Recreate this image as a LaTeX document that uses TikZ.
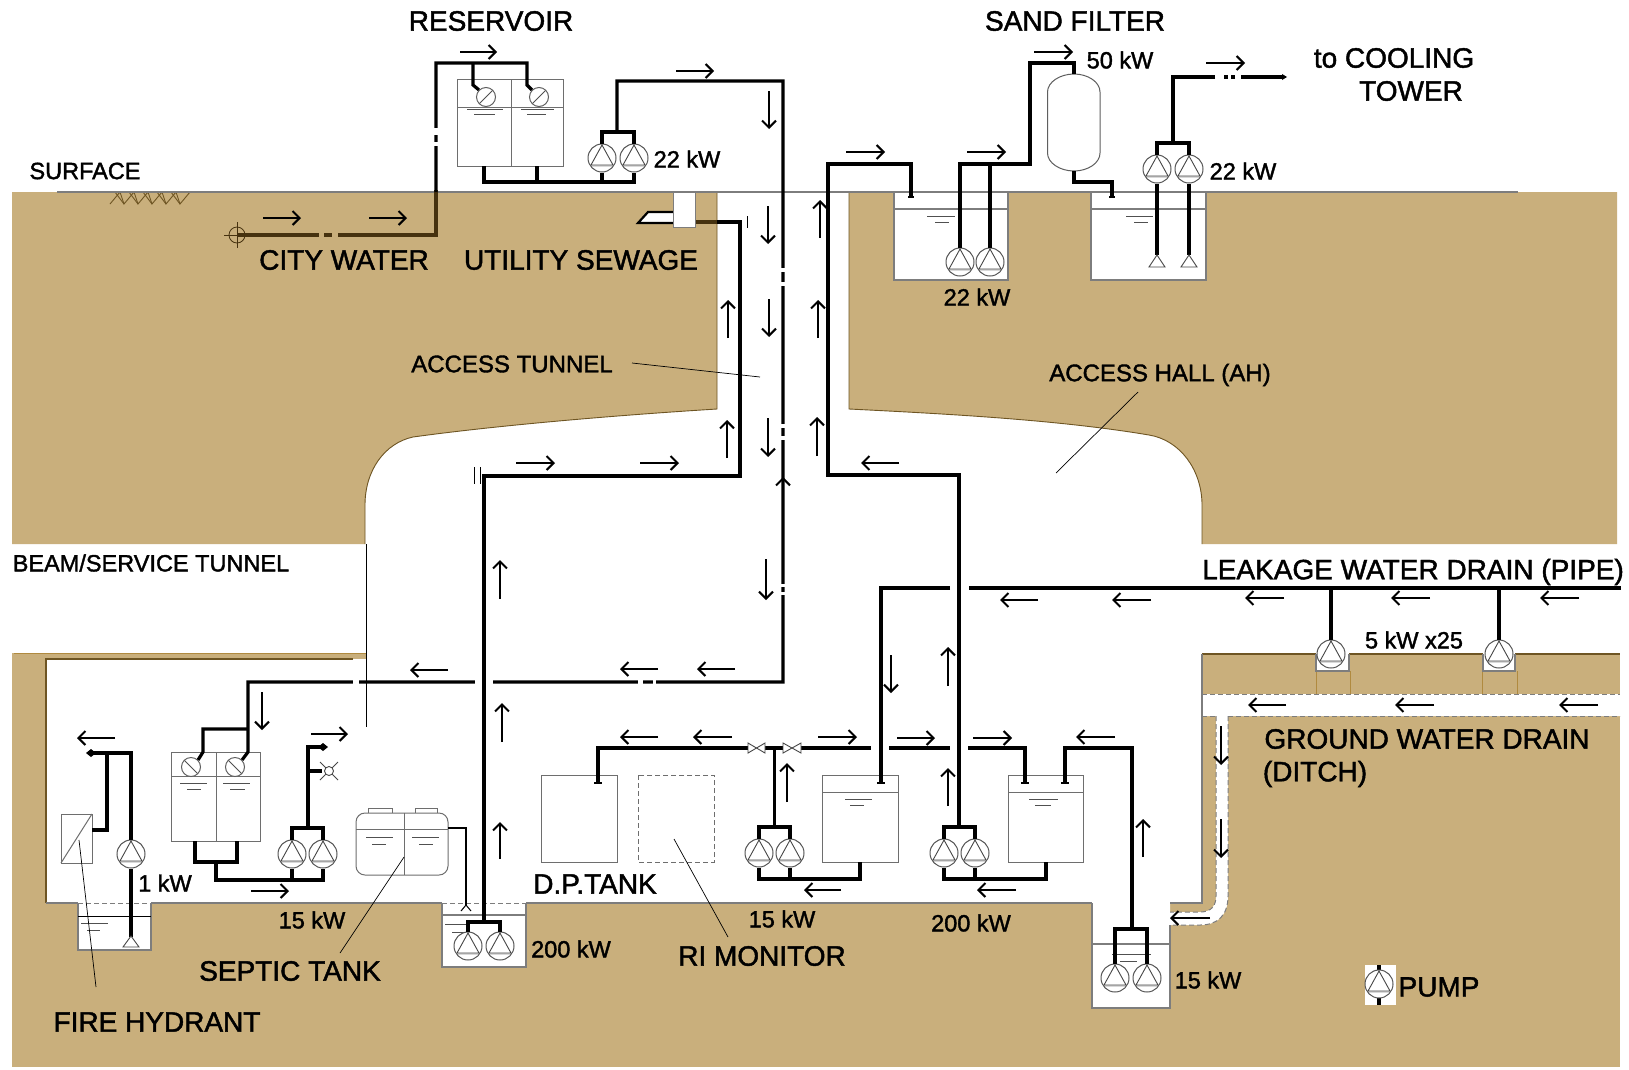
\documentclass[tikz,border=0pt]{standalone}
\usepackage{fontspec}
\setmainfont{Liberation Sans}
\newfontfamily\lblfont[FakeBold=1.6]{Liberation Sans}
\usetikzlibrary{arrows.meta}
\definecolor{groundtan}{RGB}{201,175,124}
\definecolor{grounddark}{RGB}{110,85,35}
\definecolor{groundline}{RGB}{176,138,63}
\definecolor{pipebrown}{RGB}{70,50,15}
\tikzset{
  biglabel/.style={inner sep=0pt,text=black,font=\lblfont\fontsize{28}{32}\selectfont},
  midlabel/.style={inner sep=0pt,text=black,font=\lblfont\fontsize{24}{28}\selectfont},
  smalllabel/.style={inner sep=0pt,text=black,font=\lblfont\fontsize{23.5}{27}\selectfont},
  pipe/.style={draw=black,line width=3.2pt,line cap=butt,line join=miter},
  pipeburied/.style={draw=pipebrown,line width=3.2pt,line cap=butt,line join=miter},
  pipegap/.style={draw=white,line width=5pt,line cap=butt},
  flow/.style={draw=black,line width=2pt,-{Straight Barb[length=7pt,width=14pt,line width=2pt]}},
  tankbox/.style={draw={rgb,255:red,110;green,110;blue,110},line width=1pt,fill=white},
  thinline/.style={draw=black,line width=0.7pt},
  pitline/.style={draw={rgb,255:red,125;green,125;blue,125},line width=1.2pt},
  dashline/.style={draw={rgb,255:red,125;green,125;blue,125},line width=1pt,dash pattern=on 5pt off 3pt},
  wallline/.style={draw=grounddark,line width=1.2pt},
  watermark/.style={draw={rgb,255:red,80;green,80;blue,80},line width=1pt},
  tipend/.style={draw=black,line width=1.6pt},
  pump/.style={circle,draw={rgb,255:red,85;green,85;blue,85},line width=1pt,fill=white,minimum size=28pt,inner sep=0pt,
    path picture={\fill[shift={(path picture bounding box.center)},black!15] (-14,7) rectangle (14,9);
      \draw[shift={(path picture bounding box.center)},draw={rgb,255:red,70;green,70;blue,70},line width=0.9pt] (0,-13) -- (-11,7) -- (11,7) -- cycle;}},
  floatup/.style={circle,draw={rgb,255:red,95;green,95;blue,95},line width=1pt,fill=white,minimum size=19pt,inner sep=0pt,
    path picture={\draw[draw={rgb,255:red,80;green,80;blue,80},line width=0.8pt] (path picture bounding box.north east) -- (path picture bounding box.south west);}},
  floatdown/.style={circle,draw={rgb,255:red,95;green,95;blue,95},line width=1pt,fill=white,minimum size=19pt,inner sep=0pt,
    path picture={\draw[draw={rgb,255:red,80;green,80;blue,80},line width=0.8pt] (path picture bounding box.north west) -- (path picture bounding box.south east);}},
  gatevalve/.style={draw={rgb,255:red,70;green,70;blue,70},line width=0.9pt,fill=white}
}
\begin{document}
\begin{tikzpicture}[x=1pt,y=-1pt]
% 1629 x 1069, pixel coordinates
\useasboundingbox (0,0) rectangle (1629,1069);
\fill[white] (0,0) rectangle (1629,1069);
% ground
\fill[groundtan] (12,192) -- (717,192) -- (717,409) .. controls (620,415) and (500,425) .. (413,437) .. controls (385,443) and (365,470) .. (365,505) -- (365,544) -- (12,544) -- cycle;
\fill[groundtan] (849,192) -- (1617,192) -- (1617,544) -- (1202,544) -- (1202,505) .. controls (1202,470) and (1180,440) .. (1149,435) .. controls (1060,420) and (950,414) .. (849,409) -- cycle;
\fill[groundtan] (12,653) -- (1620,653) -- (1620,1067) -- (12,1067) -- cycle;
\fill[white] (46,659) -- (366,659) -- (366,650) -- (1202,650) -- (1202,903) -- (1170,903) -- (1170,1008) -- (1092,1008) -- (1092,903) -- (526,903) -- (526,967) -- (442,967) -- (442,903) -- (151,903) -- (151,950) -- (78,950) -- (78,903) -- (46,903) -- cycle;
\fill[white] (1202,694) -- (1625,694) -- (1625,716) -- (1228,716) -- (1228,896) .. controls (1228,915) and (1218,925) .. (1200,925) -- (1170,925) -- (1170,912) -- (1200,912) .. controls (1212,912) and (1216,905) .. (1216,896) -- (1216,716) -- (1202,716) -- cycle;
\fill[white] (894,192) rectangle (1008,280);
\fill[white] (1091,192) rectangle (1206,280);
\fill[white] (1316,650) rectangle (1349,671);
\fill[white] (1483,650) rectangle (1515,671);
% ground edges
\path[wallline,line width=0.9pt] (717,192) -- (717,409) .. controls (620,415) and (500,425) .. (413,437) .. controls (385,443) and (365,470) .. (365,505) -- (365,544);
\path[wallline,line width=0.9pt] (849,192) -- (849,409) .. controls (950,414) and (1060,420) .. (1149,435) .. controls (1180,440) and (1202,470) .. (1202,505) -- (1202,544);
\path[wallline] (353,659) -- (46,659) -- (46,903);
\path[draw=groundline,line width=1pt] (366,653) -- (14,653);
\path[wallline] (1202,654) -- (1316,654) (1349,654) -- (1483,654) (1515,654) -- (1620,654);
\path[draw=groundline,line width=1pt] (1316,671) -- (1316,694) (1350,671) -- (1350,694) (1482,671) -- (1482,694) (1517,671) -- (1517,694);
\path[draw=grounddark,line width=0.9pt] (110,204) -- (120,192) -- (124,204) -- (134,192) -- (138,204) -- (148,192) -- (152,204) -- (162,192) -- (166,204) -- (176,192) -- (180,204) -- (190,192);
\path[draw=grounddark,line width=0.9pt] (115,192) -- (124,204) (129,192) -- (138,204) (143,192) -- (152,204) (157,192) -- (166,204) (171,192) -- (180,204);
\path[pitline] (57,192) -- (1518,192);
\path[pitline] (46,903) -- (78,903) (151,903) -- (442,903) (526,903) -- (1092,903) (1170,903) -- (1202,903) -- (1202,654);
\path[pitline] (894,192) -- (894,280) -- (1008,280) -- (1008,192);
\path[pitline] (1091,192) -- (1091,280) -- (1206,280) -- (1206,192);
\path[pitline] (894,209) -- (1008,209) (1091,209) -- (1206,209);
\path[pitline] (78,903) -- (78,950) -- (151,950) -- (151,903);
\path[pitline] (442,903) -- (442,967) -- (526,967) -- (526,903);
\path[pitline] (442,915) -- (526,915);
\path[pitline] (1092,903) -- (1092,1008) -- (1170,1008) -- (1170,925);
\path[pitline] (1092,944) -- (1170,944);
\path[pitline] (1316,654) -- (1316,671) -- (1349,671) -- (1349,654);
\path[pitline] (1483,654) -- (1483,671) -- (1515,671) -- (1515,654);
\path[dashline] (78,903) -- (151,903) (442,903) -- (526,903);
\path[dashline] (1202,694) -- (1620,694) (1202,716) -- (1216,716) (1228,716) -- (1620,716);
\path[dashline] (1216,716) -- (1216,896) .. controls (1216,905) and (1212,912) .. (1200,912) -- (1170,912);
\path[dashline] (1228,716) -- (1228,896) .. controls (1228,915) and (1218,925) .. (1200,925) -- (1170,925);
\path[draw=black,line width=1pt] (78,916) -- (151,916);
\path[draw=black,line width=1pt] (366,544) -- (366,727);
% tanks
\path[tankbox] (457,79) rectangle (563,166);
\path[tankbox] (511,79) -- (511,166) (457,107) -- (563,107);
\path[tankbox] (171,752) rectangle (260,841);
\path[tankbox] (216,752) -- (216,841) (171,776) -- (260,776);
\path[tankbox] (541,775) rectangle (617,862);
\path[draw={rgb,255:red,110;green,110;blue,110},line width=1pt,dash pattern=on 5pt off 3pt] (638,775) rectangle (714,862);
\path[tankbox] (822,775) rectangle (898,862);
\path[tankbox] (822,792) -- (898,792);
\path[tankbox] (1008,775) rectangle (1083,862);
\path[tankbox] (1008,792) -- (1083,792);
\path[tankbox] (368,808) rectangle (392,813);
\path[tankbox] (415,808) rectangle (437,813);
\path[tankbox,rounded corners=9pt] (356,813) rectangle (448,875);
\path[tankbox] (404,813) -- (404,875) (356,829) -- (448,829);
\path[draw={rgb,255:red,95;green,95;blue,95},line width=1pt,fill=white] (1047.5,92) .. controls (1047.5,82) and (1060,74) .. (1074,74) .. controls (1088,74) and (1100,82) .. (1100,92) -- (1100,153) .. controls (1100,163) and (1088,171) .. (1074,171) .. controls (1060,171) and (1047.5,163) .. (1047.5,153) -- cycle;
\path[tankbox] (61,814) rectangle (92,863);
\path[tankbox] (92,814) -- (61,863);
% water level marks
\path[watermark] (467,109) -- (503,109) (474,114) -- (495,114) (521,109) -- (554,109) (527,114) -- (546,114);
\path[watermark] (180,783) -- (207,783) (187,789) -- (201,789) (223,783) -- (250,783) (230,789) -- (245,789);
\path[watermark] (366,837) -- (393,837) (372,844) -- (386,844) (412,837) -- (439,837) (419,844) -- (433,844);
\path[watermark] (927,216) -- (955,216) (935,222) -- (949,222) (1126,216) -- (1153,216) (1134,222) -- (1148,222);
\path[watermark] (845,799) -- (872,799) (850,805) -- (864,805) (1029,799) -- (1058,799) (1035,805) -- (1051,805);
\path[watermark] (81,923) -- (108,923) (87,930) -- (100,930);
\path[watermark] (445,924) -- (470,924) (452,932) -- (468,932);
\path[watermark] (1112,954) -- (1151,954) (1120,961) -- (1137,961);
% pumps
\node[pump] (pumpResA) at (602,158) {};
\node[pump] (pumpResB) at (634,158) {};
\node[pump] (pumpFilterA) at (960,262) {};
\node[pump] (pumpFilterB) at (990,262) {};
\node[pump] (pumpTowerA) at (1157,169) {};
\node[pump] (pumpTowerB) at (1189,169) {};
\node[pump] (pumpHydrant) at (131,854) {};
\node[pump] (pumpSupplyA) at (292,854) {};
\node[pump] (pumpSupplyB) at (323,854) {};
\node[pump] (pumpSewageA) at (468,946) {};
\node[pump] (pumpSewageB) at (500,946) {};
\node[pump] (pumpDpA) at (759,853) {};
\node[pump] (pumpDpB) at (790,853) {};
\node[pump] (pumpCoolA) at (944,853) {};
\node[pump] (pumpCoolB) at (975,853) {};
\node[pump] (pumpPitA) at (1115,978) {};
\node[pump] (pumpPitB) at (1147,978) {};
\node[pump] (pumpLeakA) at (1331,654) {};
\node[pump] (pumpLeakB) at (1499,654) {};
\node[floatup] (floatResA) at (486,97) {};
\node[floatup] (floatResB) at (539,97) {};
\node[floatdown] (floatLowA) at (191,767) {};
\node[floatdown] (floatLowB) at (235,767) {};
% top pipes
\path[pipeburied] (237,235) -- (319,235) (324,235) -- (332,235) (338,235) -- (436,235) -- (436,190);
\path[pipe] (436,192) -- (436,63) -- (527,63) -- (527,85) -- (floatResB.north west);
\path[pipe] (473,63) -- (473,85) -- (floatResA.north west);
\path[pipegap] (436,128) -- (436,135) (436,142) -- (436,146);
\path[pipe] (484,166) -- (484,182) -- (634,182) -- (pumpResB.south);
\path[pipe] (537,166) -- (537,182);
\path[pipe] (pumpResA.south) -- (602,182);
\path[pipe] (pumpResA.north) -- (602,132) -- (634,132) -- (pumpResB.north);
\path[pipe] (617,132) -- (617,81) -- (783,81) -- (783,682) -- (248,682) -- (248,752) -- (floatLowB.north east);
\path[pipe] (248,729) -- (203,729) -- (203,752) -- (floatLowA.north east);
\path[pipegap] (783,268) -- (783,272) (783,282) -- (783,286) (783,424) -- (783,428) (783,436) -- (783,440) (783,584) -- (783,587) (783,592) -- (783,595);
\path[pipegap] (653,682) -- (656,682) (638,682) -- (643,682) (475,682) -- (493,682) (353,682) -- (359,682);
\path[pipe] (484,922) -- (484,476) -- (740,476) -- (740,222) -- (695,222);
\path[pipeburied] (717,222) -- (695,222);
\path[pipe] (pumpSewageA.north) -- (468,922) -- (500,922) -- (pumpSewageB.north);
\path[draw=black,line width=0.8pt] (474,467) -- (474,484) (480,467) -- (480,484) (747,216) -- (747,228);
\path[draw=black,line width=2.2pt,fill=white] (673,212) -- (648,212) -- (638,223) -- (673,223);
\path[draw={rgb,255:red,125;green,125;blue,125},line width=1pt,fill=white] (673,192) rectangle (695,227);
\path[pipe] (1283,77) -- (1241,77) (1235,77) -- (1231,77) (1228,77) -- (1224,77) (1215,77) -- (1173,77) -- (1173,143);
\path[pipe] (pumpTowerA.north) -- (1157,143) -- (1189,143) -- (pumpTowerB.north);
\path[pipe] (pumpTowerA.south) -- (1157,255);
\path[pipe] (pumpTowerB.south) -- (1189,255);
\path[gatevalve] (1157,255) -- (1149,267) -- (1165,267) -- cycle;
\path[gatevalve] (1189,255) -- (1181,267) -- (1197,267) -- cycle;
\path[fill=black] (1282,74) -- (1287,77) -- (1282,80) -- cycle;
\path[pipe] (pumpFilterA.north) -- (960,164) -- (1030,164) -- (1030,63) -- (1074,63) -- (1074,74);
\path[pipe] (pumpFilterB.north) -- (990,164);
\path[pipe] (1074,171) -- (1074,182) -- (1112,182) -- (1112,196);
\path[tipend] (1109,197) -- (1115,197);
\path[pipe] (959,827) -- (959,475) -- (828,475) -- (828,164) -- (911,164) -- (911,196);
\path[tipend] (908,197) -- (914,197);
% leakage drain
\path[pipe] (1621,588) -- (969,588) (950,588) -- (881,588) -- (881,782);
\path[tipend] (877,783) -- (885,783);
\path[pipe] (1331,588) -- (pumpLeakA.north);
\path[pipe] (1499,588) -- (pumpLeakB.north);
% tank room pipes
\path[pipe] (598,782) -- (598,748) -- (748,748) (765,748) -- (783,748) (801,748) -- (871,748) (889,748) -- (950,748) (968,748) -- (1025,748) -- (1025,782);
\path[tipend] (594,783) -- (602,783) (1021,783) -- (1029,783) (1061,783) -- (1069,783);
\path[pipe] (1065,782) -- (1065,748) -- (1132,748) -- (1132,929);
\path[pipe] (pumpPitA.north) -- (1115,929) -- (1147,929) -- (pumpPitB.north);
\path[pipe] (774.5,748) -- (774.5,827);
\path[pipe] (pumpDpA.north) -- (759,827) -- (790,827) -- (pumpDpB.north);
\path[pipe] (pumpDpA.south) -- (759,879) -- (860,879) -- (860,862);
\path[pipe] (pumpDpB.south) -- (790,879);
\path[pipe] (pumpCoolA.north) -- (944,827) -- (975,827) -- (pumpCoolB.north);
\path[pipe] (pumpCoolA.south) -- (944,879) -- (1046,879) -- (1046,862);
\path[pipe] (pumpCoolB.south) -- (975,879);
\path[gatevalve] (748,743) -- (765,753) -- (765,743) -- (748,753) -- cycle;
\path[gatevalve] (783,743) -- (801,753) -- (801,743) -- (783,753) -- cycle;
% left room pipes
\path[pipe] (195,841) -- (195,862) -- (237,862) -- (237,841);
\path[pipe] (216,862) -- (216,880) -- (323,880) -- (pumpSupplyB.south);
\path[pipe] (pumpSupplyA.south) -- (292,880);
\path[pipe] (pumpSupplyA.north) -- (292,828) -- (323,828) -- (pumpSupplyB.north);
\path[pipe] (308,828) -- (308,747) -- (320,747);
\path[fill=black] (318,747) -- (323,743) -- (328,747) -- (323,751) -- cycle;
\path[pipe] (308,771) -- (322,771);
\path[draw={rgb,255:red,70;green,70;blue,70},line width=0.8pt] (320,762) -- (338,780) (320,780) -- (338,762);
\node[circle,draw={rgb,255:red,70;green,70;blue,70},line width=0.9pt,fill=white,minimum size=9pt,inner sep=0pt] (hoseTap) at (329,771) {};
\path[pipe] (92,830) -- (107,830) -- (107,753) -- (94,753);
\path[fill=black] (96,753) -- (91,749) -- (86,753) -- (91,757) -- cycle;
\path[pipe] (107,753) -- (131,753) -- (pumpHydrant.north);
\path[pipe] (pumpHydrant.south) -- (131,937);
\path[gatevalve] (131,936) -- (123,947) -- (139,947) -- cycle;
\path[pipe,line width=2.4pt] (448,828) -- (466,828) -- (466,906);
\path[draw=black,line width=1pt] (461,911) -- (466,905) -- (471,911);
% flow arrows
\path[flow] (460,52) -- (497,52);
\path[flow] (676,71) -- (714,71);
\path[flow] (769,91) -- (769,129);
\path[flow] (768,206) -- (768,244);
\path[flow] (769,299) -- (769,337);
\path[flow] (768,418) -- (768,457);
\path[flow] (728,338) -- (728,300);
\path[flow] (727,458) -- (727,420);
\path[flow] (516,463) -- (555,463);
\path[flow] (640,463) -- (679,463);
\path[flow] (263,218) -- (301,218);
\path[flow] (369,218) -- (407,218);
\path[flow] (846,152) -- (885,152);
\path[flow] (967,152) -- (1006,152);
\path[flow] (1034,52) -- (1073,52);
\path[flow] (1206,63) -- (1245,63);
\path[flow] (820,238) -- (820,200);
\path[flow] (818,338) -- (818,300);
\path[flow] (817,456) -- (817,417);
\path[flow] (899,463) -- (861,463);
\path[flow] (783,498) -- (783,477);
\path[flow] (766,559) -- (766,600);
\path[flow] (500,599) -- (500,560);
\path[flow] (115,738) -- (77,738);
\path[flow] (311,734) -- (348,734);
\path[flow] (262,692) -- (262,730);
\path[flow] (251,891) -- (289,891);
\path[flow] (448,670) -- (410,670);
\path[flow] (502,742) -- (502,703);
\path[flow] (500,859) -- (500,822);
\path[flow] (658,669) -- (620,669);
\path[flow] (735,669) -- (697,669);
\path[flow] (891,655) -- (891,693);
\path[flow] (948,686) -- (948,647);
\path[flow] (658,737) -- (620,737);
\path[flow] (732,737) -- (693,737);
\path[flow] (818,737) -- (857,737);
\path[flow] (897,738) -- (935,738);
\path[flow] (973,738) -- (1012,738);
\path[flow] (1115,737) -- (1076,737);
\path[flow] (787,802) -- (787,763);
\path[flow] (948,806) -- (948,768);
\path[flow] (841,890) -- (804,890);
\path[flow] (1016,890) -- (977,890);
\path[flow] (1143,857) -- (1143,819);
\path[flow] (1038,600) -- (1000,600);
\path[flow] (1151,600) -- (1112,600);
\path[flow] (1284,598) -- (1245,598);
\path[flow] (1430,598) -- (1391,598);
\path[flow] (1579,598) -- (1540,598);
\path[flow] (1286,705) -- (1248,705);
\path[flow] (1434,705) -- (1395,705);
\path[flow] (1598,705) -- (1559,705);
\path[flow] (1221,726) -- (1221,765);
\path[flow] (1221,819) -- (1221,858);
\path[flow] (1210,918) -- (1170,918);
% leaders
\path[thinline] (632,363) -- (760,377);
\path[thinline] (1138,392) -- (1056,473);
\path[thinline] (404,857) -- (340,953);
\path[thinline] (674,839) -- (728,937);
\path[thinline] (79,840) -- (96,987);
% city water and legend marks
\node[circle,draw=pipebrown,line width=0.8pt,minimum size=16pt,inner sep=0pt] (cityTap) at (237,235) {};
\path[draw=pipebrown,line width=0.8pt] (224,235) -- (250,235) (237,222) -- (237,248);
\fill[white] (1365,965) rectangle (1396,1005);
\path[pipe] (1379,965) -- (1379,1005);
\node[pump] (pumpLegend) at (1379,984) {};
% labels
\node[biglabel] (reservoirLbl) at (491,21) {RESERVOIR};
\node[biglabel] (sandFilterLbl) at (1075,21) {SAND FILTER};
\node[smalllabel] (filterKw) at (1120,60) {50 kW};
\node[biglabel] (coolingLbl) at (1394,58) {to COOLING};
\node[biglabel] (towerLbl) at (1411,91) {TOWER};
\node[smalllabel] (resKw) at (687,159) {22 kW};
\node[smalllabel] (towerKw) at (1243,171) {22 kW};
\node[smalllabel] (sandKw) at (977,297) {22 kW};
\node[smalllabel] (surfaceLbl) at (85,171) {SURFACE};
\node[biglabel] (cityLbl) at (344,260) {CITY WATER};
\node[biglabel] (sewageLbl) at (581,260) {UTILITY SEWAGE};
\node[midlabel] (tunnelLbl) at (512,364) {ACCESS TUNNEL};
\node[midlabel] (hallLbl) at (1160,375) {ACCESS HALL (AH)};
\node[smalllabel] (beamLbl) at (151,563) {BEAM/SERVICE TUNNEL};
\node[biglabel] (leakLbl) at (1413,572) {LEAKAGE WATER DRAIN (PIPE)};
\node[smalllabel] (leakKw) at (1414,640) {5 kW x25};
\node[biglabel] (groundLbl) at (1427,739) {GROUND WATER DRAIN};
\node[biglabel] (ditchLbl) at (1315,774) {(DITCH)};
\node[smalllabel] (hydrantKw) at (165,883) {1 kW};
\node[smalllabel] (supplyKw) at (312,920) {15 kW};
\node[biglabel] (septicLbl) at (290,971) {SEPTIC TANK};
\node[biglabel] (hydrantLbl) at (157,1022) {FIRE HYDRANT};
\node[biglabel] (dpLbl) at (595,884) {D.P.TANK};
\node[biglabel] (riLbl) at (762,956) {RI MONITOR};
\node[smalllabel] (dpKw) at (782,919) {15 kW};
\node[smalllabel] (sewageKw) at (571,949) {200 kW};
\node[smalllabel] (coolKw) at (971,923) {200 kW};
\node[smalllabel] (pitKw) at (1208,980) {15 kW};
\node[biglabel] (pumpLbl) at (1439,987) {PUMP};
\end{tikzpicture}
\end{document}
